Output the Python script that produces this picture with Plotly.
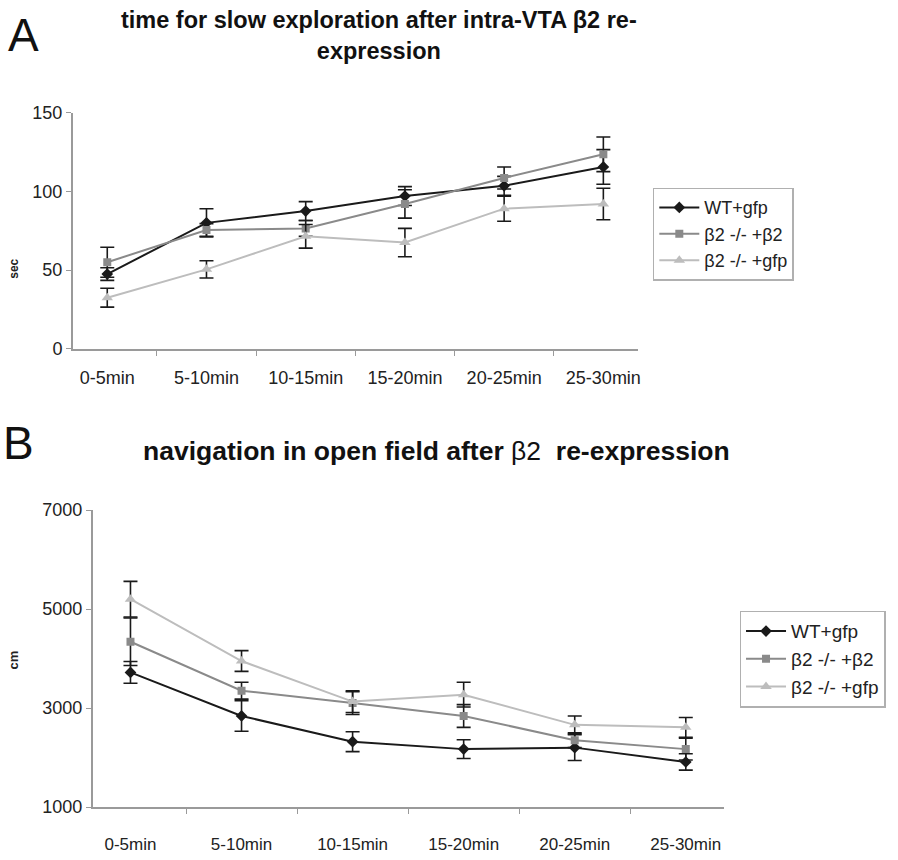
import plotly.graph_objects as go

W, H = 898, 860

# time bins shared by both panels
periods = ["0-5min", "5-10min", "10-15min", "15-20min", "20-25min", "25-30min"]

# Panel A: time for slow exploration (sec)
a_wt = [47.5, 80, 87.5, 97, 103.5, 115.5]
a_wt_err = [4, 9, 6, 6, 6, 11]
a_b2 = [55, 75.5, 76.5, 92, 108.5, 123.5]
a_b2_err = [9.5, 4, 5, 9, 7, 11]
a_gfp = [32.5, 50.5, 71.5, 67.5, 89, 92]
a_gfp_err = [6, 5.5, 7.5, 9, 8, 10]

# Panel B: navigation in open field (cm)
b_wt = [3720, 2840, 2320, 2170, 2200, 1910]
b_wt_err = [220, 310, 200, 190, 260, 165]
b_b2 = [4340, 3350, 3100, 2840, 2350, 2170]
b_b2_err = [480, 170, 230, 230, 150, 220]
b_gfp = [5200, 3950, 3130, 3270, 2660, 2610]
b_gfp_err = [360, 210, 220, 250, 180, 200]

names = ["WT+gfp", "β2 -/- +β2", "β2 -/- +gfp"]
line_colors = ["#1a1a1a", "#8a8a8a", "#bdbdbd"]
symbols = ["diamond", "square", "triangle-up"]
msizes = [9, 8, 10]

FONT = "Liberation Sans, Arial, sans-serif"

fig = go.Figure()

def add_series(xa, ya, leg, values, errs):
    for i, (v, e) in enumerate(zip(values, errs)):
        fig.add_trace(go.Scatter(
            x=periods, y=v, name=names[i], mode="lines+markers",
            xaxis=xa, yaxis=ya, legend=leg,
            line=dict(color=line_colors[i], width=2),
            marker=dict(symbol=symbols[i], size=msizes[i], color=line_colors[i]),
            error_y=dict(type="data", array=e, visible=True, color="#1a1a1a",
                         thickness=1.6, width=7),
        ))

add_series("x", "y", "legend", [a_wt, a_b2, a_gfp], [a_wt_err, a_b2_err, a_gfp_err])
add_series("x2", "y2", "legend2", [b_wt, b_b2, b_gfp], [b_wt_err, b_b2_err, b_gfp_err])

def px_x(p):
    return p / W

def px_y(p):
    return 1 - p / H

def axis_style(size, standoff=0):
    return dict(
        showline=True, linecolor="#9a9a9a", linewidth=1.5, showgrid=False,
        zeroline=False, ticks="outside", tickcolor="#9a9a9a", ticklen=5,
        ticklabelstandoff=standoff,
        tickfont=dict(family=FONT, size=size, color="#222"),
    )

def legend_style(size):
    return dict(xanchor="left", yanchor="top", bgcolor="white",
                bordercolor="#b0b0b0", borderwidth=1.5,
                font=dict(family=FONT, size=size, color="#222"),
                tracegroupgap=0, itemwidth=40)

fig.update_layout(
    width=W, height=H, margin=dict(l=0, r=0, t=0, b=0),
    paper_bgcolor="white", plot_bgcolor="white",
    font=dict(family=FONT, color="#222"),
    xaxis=dict(domain=[px_x(73), px_x(640)], anchor="y", tickson="boundaries",
               **axis_style(18, 12)),
    yaxis=dict(domain=[px_y(347), px_y(105)], anchor="x", range=[0, 150],
               tickvals=[0, 50, 100, 150], **axis_style(18)),
    xaxis2=dict(domain=[px_x(93), px_x(726)], anchor="y2", tickson="boundaries",
                **axis_style(17, 21)),
    yaxis2=dict(domain=[px_y(816), px_y(512)], anchor="x2", range=[1000, 7000],
                tickvals=[1000, 3000, 5000, 7000], **axis_style(18)),
    legend=dict(x=px_x(655), y=px_y(182), **legend_style(18)),
    legend2=dict(x=px_x(742), y=px_y(615), **legend_style(19)),
    showlegend=True,
)

annotations = [
    dict(text="A", x=px_x(24), y=px_y(26), xanchor="center", yanchor="middle",
         font=dict(family=FONT, size=46, color="#111")),
    dict(text="B", x=px_x(19), y=px_y(443), xanchor="center", yanchor="middle",
         font=dict(family=FONT, size=46, color="#111")),
    dict(text="<b>time for slow exploration after intra-VTA β2 re-</b><br><b>expression</b>",
         x=px_x(380), y=px_y(26), xanchor="center", yanchor="middle",
         font=dict(family=FONT, size=23.5, color="#111")),
    dict(text="<b>navigation in open field after</b> β2  <b>re-expression</b>",
         x=px_x(438), y=px_y(452), xanchor="center", yanchor="middle",
         font=dict(family=FONT, size=26.5, color="#111")),
    dict(text="<b>sec</b>", x=px_x(14), y=px_y(265), textangle=-90,
         xanchor="center", yanchor="middle",
         font=dict(family=FONT, size=12, color="#222")),
    dict(text="<b>cm</b>", x=px_x(14), y=px_y(665), textangle=-90,
         xanchor="center", yanchor="middle",
         font=dict(family=FONT, size=13, color="#222")),
]
for a in annotations:
    a.update(xref="paper", yref="paper", showarrow=False)
fig.update_layout(annotations=annotations)

fig.write_html("out.html")
